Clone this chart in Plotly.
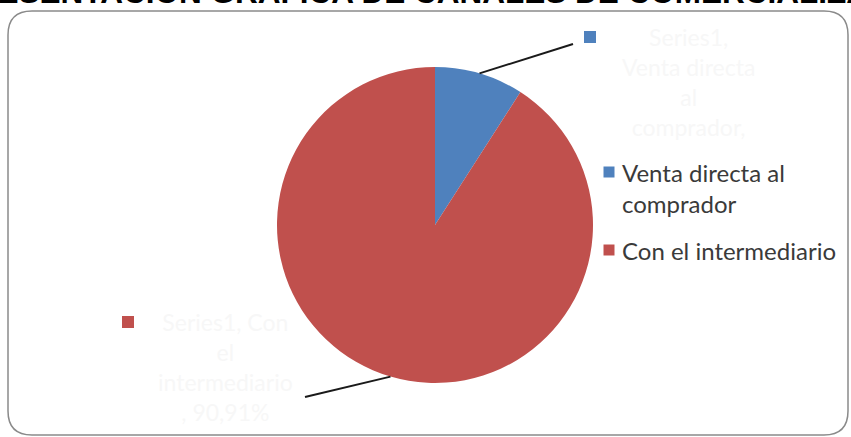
import math
import plotly.graph_objects as go

# ---- data ----
categories = ["Venta directa al comprador", "Con el intermediario"]
legend_labels = ["Venta directa al<br>comprador", "Con el intermediario"]
values = [9.09, 90.91]
series_name = "Series1"
colors = ["#4F81BD", "#C0504D"]
title_text = "REPRESENTACIÓN GRÁFICA DE CANALES DE COMERCIALIZACIÓN"

W, H = 851, 437
def px(x): return x / W
def py(y): return 1 - y / H

# pie geometry (pixels)
cx, cy, r = 435, 225, 158

fig = go.Figure()
fig.add_trace(go.Pie(
    labels=categories, values=values, sort=False, direction="clockwise",
    rotation=0, textinfo="none", hoverinfo="label+percent",
    marker=dict(colors=colors, line=dict(width=0)),
    domain=dict(x=[px(cx - r), px(cx + r)], y=[py(cy + r), py(cy - r)]),
    showlegend=False,
))

shapes = []
# rounded chart border
x0, x1, y0, y1, rr = 8, 848, 11, 435, 24
path = (f"M {px(x0+rr)},{py(y0)} L {px(x1-rr)},{py(y0)} Q {px(x1)},{py(y0)} {px(x1)},{py(y0+rr)} "
        f"L {px(x1)},{py(y1-rr)} Q {px(x1)},{py(y1)} {px(x1-rr)},{py(y1)} "
        f"L {px(x0+rr)},{py(y1)} Q {px(x0)},{py(y1)} {px(x0)},{py(y1-rr)} "
        f"L {px(x0)},{py(y0+rr)} Q {px(x0)},{py(y0)} {px(x0+rr)},{py(y0)} Z")
shapes.append(dict(type="path", path=path, xref="paper", yref="paper",
                   line=dict(color="#8a8a8a", width=1.5)))

# leader lines from slice midpoints to label positions
total = sum(values)
label_ends = [(573, 44), (305, 397)]
start = 0.0
mids = []
for v in values:
    mid = (start + v / 2) / total * 2 * math.pi
    mids.append(mid)
    start += v
for mid, (ex, ey) in zip(mids, label_ends):
    sx = cx + r * math.sin(mid)
    sy = cy - r * math.cos(mid)
    shapes.append(dict(type="line", xref="paper", yref="paper",
                       x0=px(sx), y0=py(sy), x1=px(ex), y1=py(ey),
                       line=dict(color="#1a1a1a", width=2)))

def square(sx, sy, c, s=6):
    return dict(type="rect", xref="paper", yref="paper",
                x0=px(sx - s), x1=px(sx + s), y0=py(sy + s), y1=py(sy - s),
                fillcolor=c, line=dict(width=0))

# data label marker squares
for (sx, sy), c in zip([(590, 37), (128, 322)], colors):
    shapes.append(square(sx, sy, c))
# legend marker squares
for (sx, sy), c in zip([(609, 172), (609, 250)], colors):
    shapes.append(square(sx, sy, c, 5.5))

pcts = [f"{v:.2f}".replace(".", ",") + "%" for v in values]
label_font = dict(family="Lato", size=23, color="#f7f7f7")
annotations = [
    dict(text="<b>" + title_text + "</b>", x=px(429), y=py(12), xref="paper", yref="paper",
         xanchor="center", yanchor="bottom", showarrow=False,
         font=dict(family="Liberation Sans", size=31.5, color="black")),
    dict(text=f"{series_name},<br>Venta directa<br>al<br>comprador,",
         x=px(688), y=py(21), xref="paper", yref="paper", xanchor="center", yanchor="top",
         showarrow=False, font=label_font),
    dict(text=f"{series_name}, Con<br>el<br>intermediario<br>, {pcts[1]}",
         x=px(226), y=py(306), xref="paper", yref="paper", xanchor="center", yanchor="top",
         showarrow=False, font=label_font),
]
# legend texts
for lab, ytop in zip(legend_labels, [156, 234]):
    annotations.append(dict(text=lab, x=px(620), y=py(ytop), xref="paper", yref="paper",
                            xanchor="left", yanchor="top", align="left", showarrow=False,
                            font=dict(family="Lato", size=24, color="#3a3a3a")))

fig.update_layout(
    width=W, height=H, margin=dict(l=0, r=0, t=0, b=0),
    paper_bgcolor="white", plot_bgcolor="white",
    shapes=shapes, annotations=annotations, showlegend=False,
)
fig.write_html("out.html", post_script="document.body.style.margin='0';",
               config={"displayModeBar": False})
